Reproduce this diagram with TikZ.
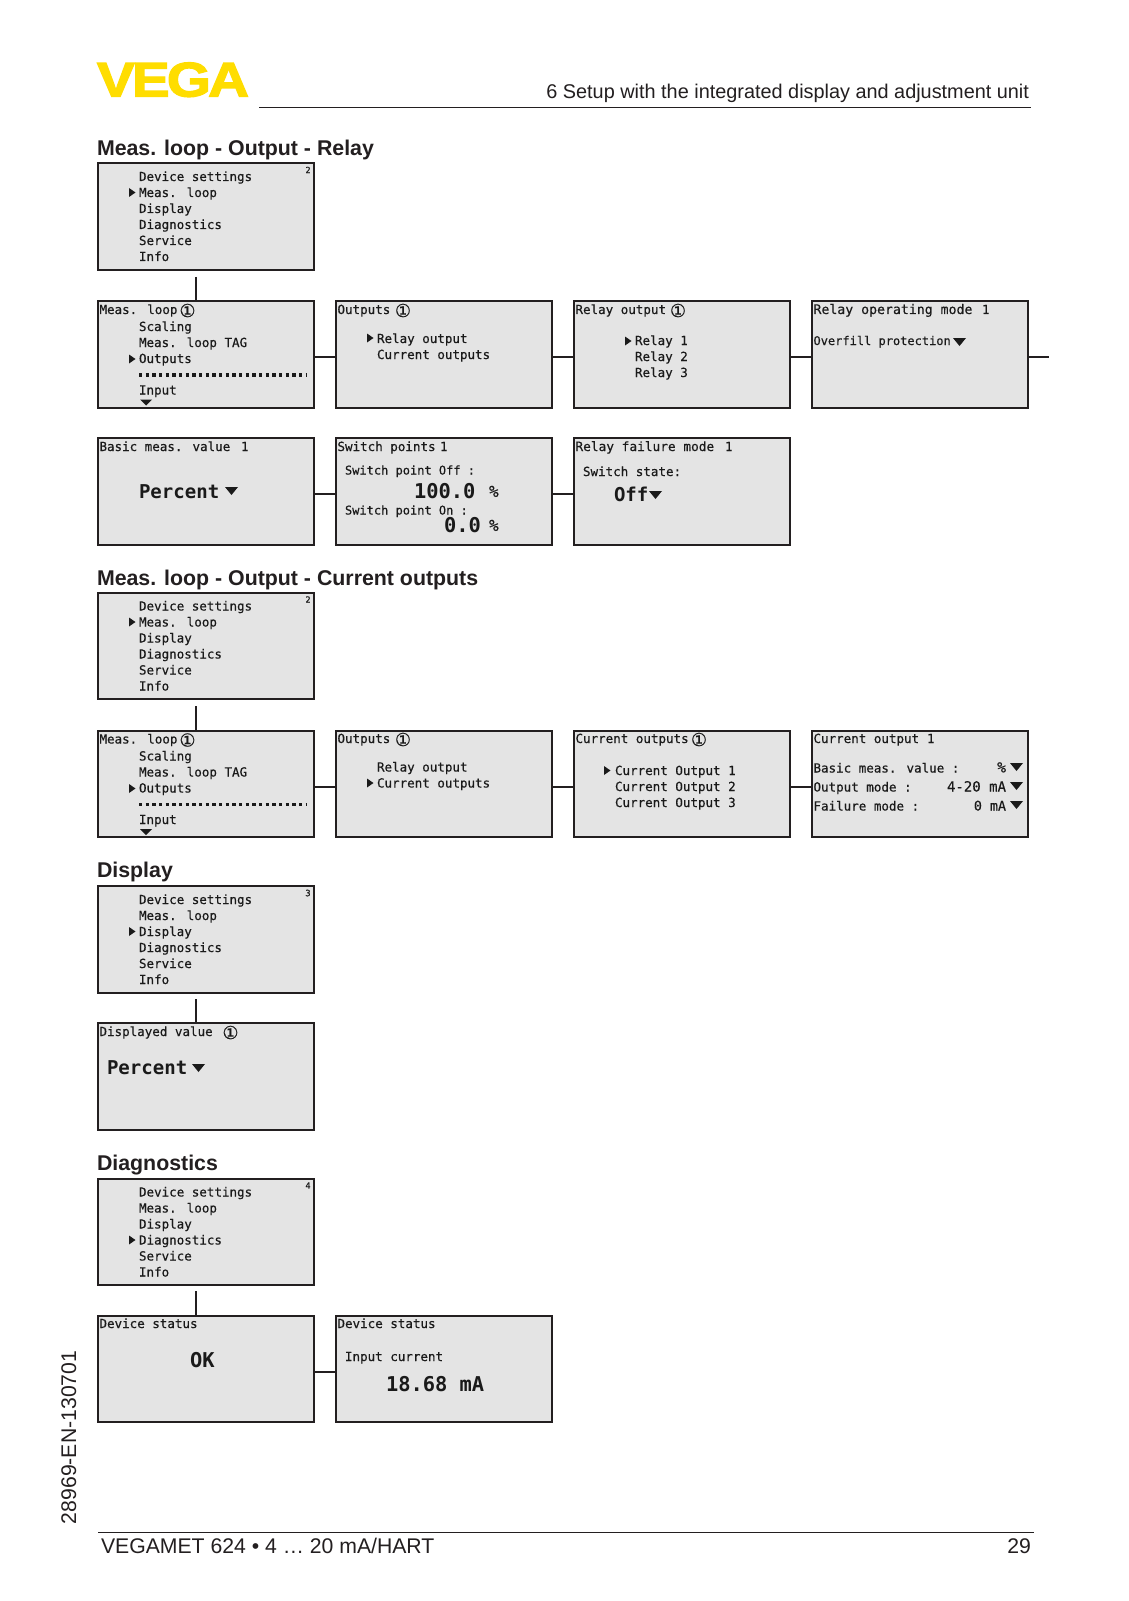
\documentclass[tikz,border=0pt]{standalone}
\usepackage{fontspec}
\setmainfont{Liberation Sans}
\newfontfamily\lcdfont{DejaVu Sans Mono}[FakeBold=0.4]
\newfontfamily\lcdbold{DejaVu Sans Mono}
\newfontfamily\symfont{DejaVu Sans}[FakeBold=0.6]
\definecolor{ink}{HTML}{231F20}
\definecolor{lcdfill}{HTML}{E4E4E4}
\definecolor{lcdink}{HTML}{1A1A1A}
\definecolor{vega}{HTML}{FFDD00}
\newcommand{\Sz}[1]{\fontsize{#1}{#1}\selectfont}
\tikzset{
  screen/.style={draw=ink,fill=lcdfill,line width=1.5pt,sharp corners,minimum width=162.3pt,minimum height=80pt,inner sep=0pt,outer sep=0pt},
  link/.style={draw=ink,line width=1.5pt},
  lcd/.style={anchor=base west,inner sep=0pt,outer sep=0pt,text=lcdink,font=\lcdfont\Sz{9.4}},
  lcdr/.style={lcd,anchor=base east},
  big/.style={anchor=base west,inner sep=0pt,outer sep=0pt,text=lcdink,font=\lcdbold\bfseries\Sz{14.3}},
  knob/.style={inner sep=0pt,outer sep=0pt,text=lcdink,font=\symfont\Sz{13.5}},
  tiny/.style={inner sep=0pt,outer sep=0pt,text=lcdink,font=\lcdfont\Sz{6.5}},
  heading/.style={anchor=base west,inner sep=0pt,outer sep=0pt,text=ink,font=\bfseries\Sz{16}},
  pagetext/.style={inner sep=0pt,outer sep=0pt,text=ink,font=\Sz{15.9}},
  rulekey/.style={draw=ink,line width=0.7pt},
  dotrow/.style={draw=lcdink,line width=2.6pt,dash pattern=on 2.5pt off 2.5pt},
}
\newcommand{\Scr}[3]{\node[screen,anchor=north west] (#1) at (#2,#3) {};}
\newcommand{\Tx}[4]{\node[lcd] (#1) at (#2,#3) {#4};}
\newcommand{\Bg}[4]{\node[big] (#1) at (#2,#3) {#4};}
\newcommand{\Rtri}[2]{\fill[lcdink] (#1,#2-4.5) -- (#1+6.5,#2) -- (#1,#2+4.5) -- cycle;}
\newcommand{\Dtri}[2]{\fill[lcdink] (#1,#2) -- (#1+13,#2) -- (#1+6.5,#2+8) -- cycle;}
\newcommand{\Onec}[3]{\node[knob] (#1) at (#2,#3) {①};}
\newcommand{\MainMenu}[4]{%
  \Scr{#1}{98}{#2}
  \Tx{#1a}{139}{#2+18}{Device settings}
  \Tx{#1b}{139}{#2+34}{Meas. loop}
  \Tx{#1c}{139}{#2+50}{Display}
  \Tx{#1d}{139}{#2+66}{Diagnostics}
  \Tx{#1e}{139}{#2+82}{Service}
  \Tx{#1f}{139}{#2+98}{Info}
  \Rtri{129}{#2+13.5+16*#3}
  \node[tiny] (#1n) at (308,#2+7) {#4};
}
\newcommand{\LoopMenu}[2]{%
  \Scr{#1}{98}{#2}
  \Tx{#1t}{99.5}{#2+13}{Meas. loop}
  \Onec{#1o}{187.5}{#2+9.5}
  \Tx{#1a}{139}{#2+30}{Scaling}
  \Tx{#1b}{139}{#2+46}{Meas. loop TAG}
  \Tx{#1c}{139}{#2+62}{Outputs}
  \Rtri{129}{#2+58}
  \coordinate (#1dl) at (139,#2+74);
  \coordinate (#1dr) at (306,#2+74);
  \draw[dotrow] (#1dl) -- (#1dr);
  \Tx{#1d}{139}{#2+93.5}{Input}
  \fill[lcdink] (140,#2+98.5) -- (152,#2+98.5) -- (146,#2+104.5) -- cycle;
}
\begin{document}
\begin{tikzpicture}[x=0.75pt,y=-0.75pt]
\useasboundingbox (0,0) rectangle (1128,1601);
\fill[white] (0,0) rectangle (1128,1601);
% header
\node[anchor=south west,inner sep=0pt,outer sep=0pt,text=vega] (logo) at (97,97) {\resizebox{114pt}{25.5pt}{\bfseries\addfontfeature{FakeBold=2.5,LetterSpace=-5}VEGA}};
\node[pagetext,anchor=base east] (chapter) at (1029,99) {\Sz{14.9}6 Setup with the integrated display and adjustment unit};
\coordinate (hl) at (259,107); \coordinate (hr) at (1031,107);
\draw[rulekey] (hl) -- (hr);
% section 1
\node[heading] (h1) at (97,156) {Meas. loop - Output - Relay};
\MainMenu{m}{163}{1}{2}
\LoopMenu{l}{301}
\coordinate (c1) at (196,277);
\draw[link] (c1) -- (c1 |- l.north);
\Scr{o}{335.5}{301}
\Tx{ot}{337.5}{314}{Outputs}
\Onec{oo}{403}{310.5}
\Tx{oa}{377}{343}{Relay output}
\Tx{ob}{377}{359}{Current outputs}
\Rtri{367}{338}
\Scr{r}{573.5}{301}
\Tx{rt}{575.5}{314}{Relay output}
\Onec{ro}{678}{310.5}
\Tx{ra}{635}{345}{Relay 1}
\Tx{rb}{635}{361}{Relay 2}
\Tx{rc}{635}{377}{Relay 3}
\Rtri{625}{341}
\Scr{p}{811.5}{301}
\Tx{pt}{813.5}{314}{\Sz{9.9}Relay operating mode}
\Tx{pn}{982}{314}{1}
\Tx{pa}{813.5}{345}{\Sz{9}Overfill protection}
\Dtri{953}{338}
\coordinate (stub) at ([xshift=15.75pt,yshift=-2.25pt]p.east);
\draw[link] ([yshift=-2.25pt]l.east) -- ([yshift=-2.25pt]o.west);
\draw[link] ([yshift=-2.25pt]o.east) -- ([yshift=-2.25pt]r.west);
\draw[link] ([yshift=-2.25pt]r.east) -- ([yshift=-2.25pt]p.west);
\draw[link] ([yshift=-2.25pt]p.east) -- (stub);
% row 3
\Scr{b}{98}{438}
\Tx{bt}{99.5}{451}{Basic meas. value}
\Tx{bn}{241}{451}{1}
\Bg{ba}{139}{498}{Percent}
\Dtri{225}{487}
\Scr{s}{335.5}{438}
\Tx{st}{337.5}{451}{Switch points}
\Tx{sn}{440}{451}{1}
\Tx{sa}{345}{474.5}{\Sz{9}Switch point Off :}
\Bg{sb}{414}{498}{\Sz{15.3}100.0}
\Tx{sc}{489}{497}{\Sz{12}\%}
\Tx{sd}{345}{514.5}{\Sz{9}Switch point On :}
\Bg{se}{444}{532}{\Sz{15.3}0.0}
\Tx{sf}{489}{531}{\Sz{12}\%}
\Scr{f}{573.5}{438}
\Tx{ft}{575.5}{451}{\Sz{9.6}Relay failure mode}
\Tx{fn}{725}{451}{1}
\Tx{fa}{583}{476}{Switch state:}
\Bg{fb}{614}{501}{Off}
\Dtri{649}{491}
\draw[link] ([yshift=-2.25pt]b.east) -- ([yshift=-2.25pt]s.west);
\draw[link] ([yshift=-2.25pt]s.east) -- ([yshift=-2.25pt]f.west);
% section 2
\node[heading] (h2) at (97,585) {Meas. loop - Output - Current outputs};
\MainMenu{n}{592.5}{1}{2}
\LoopMenu{q}{730.5}
\coordinate (c2) at (196,706);
\draw[link] (c2) -- (c2 |- q.north);
\Scr{u}{335.5}{730.5}
\Tx{ut}{337.5}{743}{Outputs}
\Onec{uo}{403}{739.5}
\Tx{ua}{377}{771.5}{Relay output}
\Tx{ub}{377}{787.5}{Current outputs}
\Rtri{367}{783}
\Scr{v}{573.5}{730.5}
\Tx{vt}{575.5}{743}{Current outputs}
\Onec{vo}{699}{739.5}
\Tx{va}{615}{775}{Current Output 1}
\Tx{vb}{615}{791}{Current Output 2}
\Tx{vc}{615}{807}{Current Output 3}
\Rtri{604}{770.5}
\Scr{w}{811.5}{730.5}
\Tx{wt}{813.5}{743}{Current output}
\Tx{wn}{927}{743}{1}
\Tx{wa}{813.5}{772.5}{Basic meas. value :}
\Tx{wb}{813.5}{791.5}{Output mode :}
\Tx{wc}{813.5}{810.5}{Failure mode :}
\node[lcdr] (wd) at (1006,772.5) {\Sz{11}\%};
\node[lcdr] (we) at (1006,791.5) {\Sz{10.5}4-20 mA};
\node[lcdr] (wf) at (1006,810.5) {\Sz{10}0 mA};
\Dtri{1010}{763}
\Dtri{1010}{782}
\Dtri{1010}{801}
\draw[link] ([yshift=-2.25pt]q.east) -- ([yshift=-2.25pt]u.west);
\draw[link] ([yshift=-2.25pt]u.east) -- ([yshift=-2.25pt]v.west);
\draw[link] ([yshift=-2.25pt]v.east) -- ([yshift=-2.25pt]w.west);
% section 3
\node[heading] (h3) at (97,877) {Display};
\MainMenu{x}{886}{2}{3}
\Scr{y}{98}{1023}
\Tx{yt}{99.5}{1036}{Displayed value}
\Onec{yo}{230.5}{1032.5}
\Bg{ya}{107}{1074}{Percent}
\Dtri{192}{1064}
\coordinate (c3) at (196,999);
\draw[link] (c3) -- (c3 |- y.north);
% section 4
\node[heading] (h4) at (97,1170) {Diagnostics};
\MainMenu{z}{1178.5}{3}{4}
\Scr{d}{98}{1315.5}
\Tx{dt}{99.5}{1328}{Device status}
\Bg{da}{190}{1367}{\Sz{15.3}OK}
\Scr{e}{335.5}{1315.5}
\Tx{et}{337.5}{1328}{Device status}
\Tx{ea}{345}{1361}{Input current}
\Bg{eb}{386}{1391}{\Sz{15.3}18.68 mA}
\coordinate (c4) at (196,1291);
\draw[link] (c4) -- (c4 |- d.north);
\draw[link] ([yshift=-2.25pt]d.east) -- ([yshift=-2.25pt]e.west);
% footer
\node[pagetext,rotate=90,anchor=base west] (docno) at (76,1524) {28969-EN-130701};
\coordinate (fl) at (98,1532); \coordinate (fr) at (1034,1532);
\draw[rulekey] (fl) -- (fr);
\node[pagetext,anchor=base west] (foot) at (101,1553) {VEGAMET 624 • 4 … 20 mA/HART};
\node[pagetext,anchor=base east] (page) at (1031,1553) {29};
\end{tikzpicture}
\end{document}
